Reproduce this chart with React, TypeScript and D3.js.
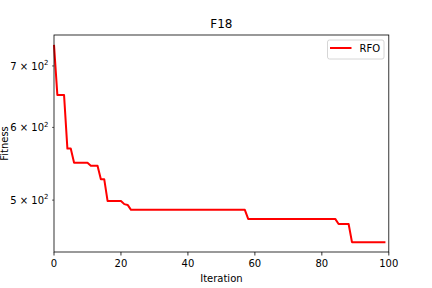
import React from "react";
import * as d3 from "d3";

const iterations: number[] = Array.from({ length: 100 }, (_, i) => i);
const fitness: number[] = [
  738, 651, 651, 651, 569, 569, 549, 549, 549, 549,
  549, 545, 545, 545, 527, 527, 499, 499, 499, 499,
  499, 495, 494, 488, 488, 488, 488, 488, 488, 488,
  488, 488, 488, 488, 488, 488, 488, 488, 488, 488,
  488, 488, 488, 488, 488, 488, 488, 488, 488, 488,
  488, 488, 488, 488, 488, 488, 488, 488, 477, 477,
  477, 477, 477, 477, 477, 477, 477, 477, 477, 477,
  477, 477, 477, 477, 477, 477, 477, 477, 477, 477,
  477, 477, 477, 477, 477, 471, 471, 471, 471, 450,
  450, 450, 450, 450, 450, 450, 450, 450, 450, 450,
];
const xTicks: number[] = [0, 20, 40, 60, 80, 100];
const yTicks: number[] = [500, 600, 700];
const yTickMinor: number[] = [400, 500, 600, 700, 800];
const seriesName = "RFO";
const title = "F18";
const xLabel = "Iteration";
const yLabel = "Fitness";

const W = 432, H = 288;
const L = 54, R = 388.8, T = 35, B = 252;
const font = "DejaVu Sans, sans-serif";

export default function App() {
  const x = d3.scaleLinear().domain([0, 100]).range([L, R]);
  const lmin = Math.log10(d3.min(fitness)!);
  const lmax = Math.log10(d3.max(fitness)!);
  const m = (lmax - lmin) * 0.05;
  const y = d3.scaleLog().domain([Math.pow(10, lmin - m), Math.pow(10, lmax + m)]).range([B, T]);
  const line = d3.line<number>().x((_, i) => x(iterations[i])).y((d) => y(d));
  const yd = y.domain();
  const minor = yTickMinor.filter((v) => v >= yd[0] && v <= yd[1]);
  return (
    <svg width={W} height={H} style={{ position: "absolute", left: 0, top: 0, background: "#fff" }} fontFamily={font}>
      <rect x={0} y={0} width={W} height={H} fill="#fff" />
      <text x={(L + R) / 2} y={28} textAnchor="middle" fontSize={12} fill="#000">{title}</text>
      <g>
        <path d={line(fitness) || ""} fill="none" stroke="#ff0000" strokeWidth={2} strokeLinejoin="round" />
      </g>
      <rect x={L} y={T} width={R - L} height={B - T} fill="none" stroke="#000" strokeWidth={0.8} />
      {xTicks.map((t) => (
        <g key={t}>
          <line x1={x(t)} x2={x(t)} y1={B} y2={B + 3.5} stroke="#000" strokeWidth={0.8} />
          <text x={x(t)} y={266.5} textAnchor="middle" fontSize={10} fill="#000">{t}</text>
        </g>
      ))}
      {minor.map((t) => (
        <line key={t} x1={L - 2} x2={L} y1={y(t)} y2={y(t)} stroke="#000" strokeWidth={0.6} />
      ))}
      {yTicks.map((t) => (
        <text key={t} x={L - 5.5} y={y(t) + 3.6} textAnchor="end" fontSize={10} fill="#000">
          {`${t / 100} × 10`}
          <tspan fontSize={7} dy={-4.5}>2</tspan>
        </text>
      ))}
      <text x={(L + R) / 2} y={281.5} textAnchor="middle" fontSize={10} fill="#000">{xLabel}</text>
      <text transform={`translate(7.8, ${(T + B) / 2}) rotate(-90)`} textAnchor="middle" fontSize={10} fill="#000">{yLabel}</text>
      <g>
        <rect x={327.5} y={40} width={56.5} height={19} rx={2} fill="#fff" fillOpacity={0.8} stroke="#cccccc" strokeWidth={0.8} />
        <line x1={330} x2={351.5} y1={48} y2={48} stroke="#ff0000" strokeWidth={2} />
        <text x={359.5} y={51.8} fontSize={10} fill="#000">{seriesName}</text>
      </g>
    </svg>
  );
}
